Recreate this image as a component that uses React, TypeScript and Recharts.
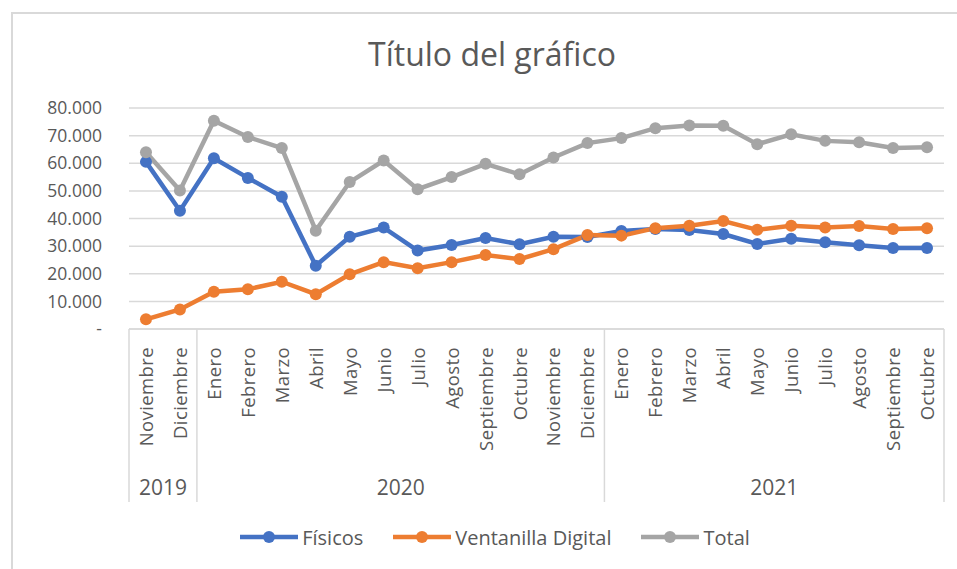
import React from "react";
import { LineChart, Line, XAxis, YAxis, CartesianGrid, Legend } from "recharts";

const months = [
  "Noviembre", "Diciembre",
  "Enero", "Febrero", "Marzo", "Abril", "Mayo", "Junio", "Julio", "Agosto", "Septiembre", "Octubre", "Noviembre", "Diciembre",
  "Enero", "Febrero", "Marzo", "Abril", "Mayo", "Junio", "Julio", "Agosto", "Septiembre", "Octubre",
];
const years = [
  "2019", "2019",
  "2020", "2020", "2020", "2020", "2020", "2020", "2020", "2020", "2020", "2020", "2020", "2020",
  "2021", "2021", "2021", "2021", "2021", "2021", "2021", "2021", "2021", "2021",
];
const fisicos = [
  60500, 42800,
  61800, 54700, 47900, 22900, 33400, 36700, 28400, 30400, 32900, 30700, 33400, 33300,
  35500, 36200, 35800, 34400, 30800, 32700, 31400, 30300, 29300, 29300,
];
const ventanilla = [
  3500, 7100,
  13500, 14400, 17100, 12600, 19800, 24200, 22000, 24200, 26800, 25300, 28900, 34000,
  33800, 36500, 37400, 39100, 35900, 37400, 36700, 37300, 36200, 36500,
];
const total = [
  64000, 50100,
  75400, 69500, 65500, 35600, 53200, 61000, 50600, 55000, 59800, 56000, 62100, 67300,
  69100, 72700, 73700, 73600, 66900, 70500, 68100, 67600, 65500, 65800,
];
const yTicks = [0, 10000, 20000, 30000, 40000, 50000, 60000, 70000, 80000];

const W = 957;
const H = 569;
const MARGIN = { top: 108, right: 13, left: 0, bottom: 60 };
const Y_WIDTH = 129;
const TEXT = "#595959";
const GRID = "#d9d9d9";
const FONT = "'Open Sans', 'Noto Sans', sans-serif";

const series = [
  { key: "fisicos", name: "Físicos", color: "#4472C4" },
  { key: "ventanilla", name: "Ventanilla Digital", color: "#ED7D31" },
  { key: "total", name: "Total", color: "#A5A5A5" },
];

const data = months.map((m, i) => ({
  id: String(i),
  month: m,
  year: years[i],
  fisicos: fisicos[i],
  ventanilla: ventanilla[i],
  total: total[i],
}));

// ancho de cada categoría (los puntos van al centro)
const band = (W - MARGIN.left - MARGIN.right - Y_WIDTH) / months.length;

// formato es: 80.000, y "-" para el cero
const fmtY = (v: number) => (v === 0 ? "-" : String(v).replace(/\B(?=(\d{3})+(?!\d))/g, "."));

function MonthTick(props: any) {
  const { x, y, payload } = props;
  const i = Number(payload.value);
  const year = years[i];
  const isStart = i === 0 || years[i - 1] !== year;
  const isLast = i === months.length - 1;
  const count = years.filter((yy) => yy === year).length;
  return (
    <g>
      <text
        transform={`translate(${x + 7},${y + 18}) rotate(-90)`}
        textAnchor="end"
        fill={TEXT}
        fontSize={18.5}
        letterSpacing={0.4}
        fontFamily={FONT}
      >
        {months[i]}
      </text>
      {isStart && (
        <>
          <line x1={x - band / 2} x2={x - band / 2} y1={y} y2={y + 173} stroke={GRID} strokeWidth={1.5} />
          <text
            x={x + ((count - 1) * band) / 2}
            y={y + 166}
            textAnchor="middle"
            fill={TEXT}
            fontSize={21}
            fontFamily={FONT}
          >
            {year}
          </text>
        </>
      )}
      {isLast && (
        <line x1={x + band / 2} x2={x + band / 2} y1={y} y2={y + 173} stroke={GRID} strokeWidth={1.5} />
      )}
    </g>
  );
}

function LegendContent() {
  return (
    <div
      style={{
        display: "flex",
        justifyContent: "center",
        alignItems: "center",
        height: 34,
        fontFamily: FONT,
        fontSize: 20,
        color: TEXT,
      }}
    >
      {series.map((s) => (
        <div key={s.key} style={{ display: "flex", alignItems: "center", marginRight: 30 }}>
          <svg width={58} height={14}>
            <line x1={0} x2={58} y1={7} y2={7} stroke={s.color} strokeWidth={4.5} strokeLinecap="round" />
            <circle cx={29} cy={7} r={6} fill={s.color} />
          </svg>
          <span style={{ marginLeft: 4 }}>{s.name}</span>
        </div>
      ))}
    </div>
  );
}

export default function App() {
  return (
    <div style={{ position: "absolute", left: 0, top: 0, width: W, height: H, background: "#fff" }}>
      <div
        style={{
          position: "absolute",
          left: 11,
          top: 12,
          right: 0,
          bottom: 0,
          borderTop: `2px solid ${GRID}`,
          borderLeft: `2px solid ${GRID}`,
        }}
      />
      <div
        style={{
          position: "absolute",
          left: 0,
          width: 984,
          top: 32,
          textAlign: "center",
          fontFamily: FONT,
          fontSize: 32,
          color: TEXT,
        }}
      >
        Título del gráfico
      </div>
      <LineChart width={W} height={H} data={data} margin={MARGIN}>
        <CartesianGrid vertical={false} stroke={GRID} strokeWidth={1.5} />
        <XAxis
          dataKey="id"
          interval={0}
          height={180}
          padding={{ left: band / 2, right: band / 2 }}
          tickLine={false}
          tickSize={0}
          tickMargin={0}
          axisLine={{ stroke: GRID, strokeWidth: 1.5 }}
          tick={<MonthTick />}
        />
        <YAxis
          width={Y_WIDTH}
          domain={[0, 80000]}
          ticks={yTicks}
          tickLine={false}
          axisLine={false}
          tickSize={6}
          tickMargin={21}
          tickFormatter={fmtY}
          tick={{ fill: TEXT, fontSize: 17.5, fontFamily: FONT }}
        />
        <Legend
          verticalAlign="middle"
          align="center"
          layout="horizontal"
          wrapperStyle={{ top: 520, left: 0, width: 1020 }}
          content={<LegendContent />}
        />
        {series.map((s) => (
          <Line
            key={s.key}
            type="linear"
            dataKey={s.key}
            name={s.name}
            stroke={s.color}
            strokeWidth={4.5}
            dot={{ r: 6, fill: s.color, stroke: s.color, strokeWidth: 0 }}
            activeDot={false}
            isAnimationActive={false}
          />
        ))}
      </LineChart>
    </div>
  );
}
